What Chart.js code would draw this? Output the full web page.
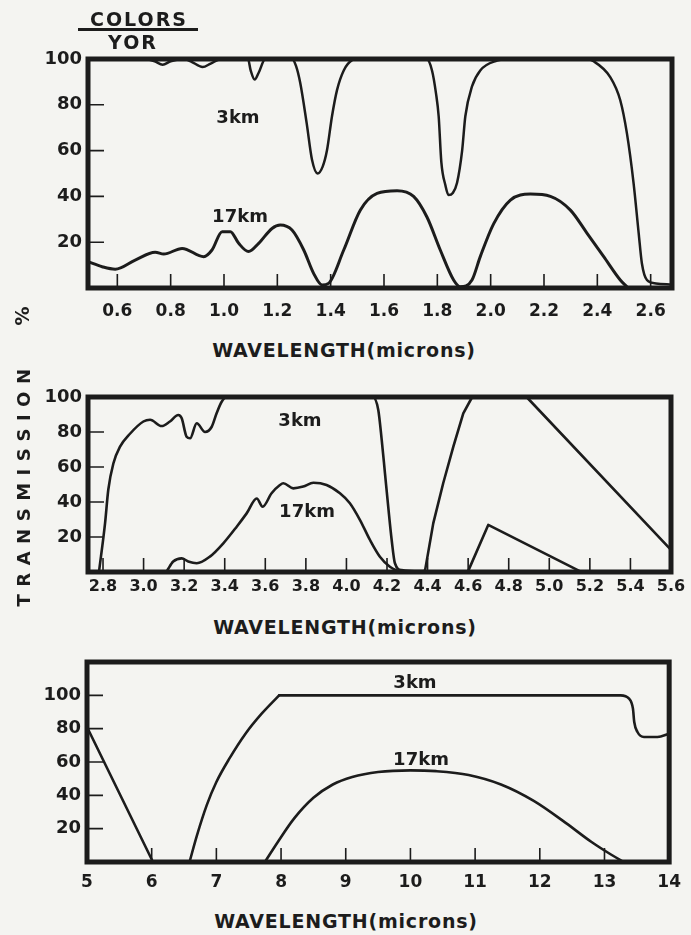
<!DOCTYPE html>
<html><head><meta charset="utf-8">
<script src="https://cdn.jsdelivr.net/npm/chart.js@4.4.0/dist/chart.umd.min.js"></script>
<style>
html,body{margin:0;padding:0;background:#f4f4f1;}
#wrap{position:relative;width:691px;height:935px;overflow:hidden;font-family:"DejaVu Sans",sans-serif;font-weight:bold;color:#1c1c1c;background:#f4f4f1;}
canvas{position:absolute;left:0;}
.t{position:absolute;white-space:nowrap;transform:translate(-50%,-50%);line-height:1;}
.v{position:absolute;white-space:nowrap;transform:translate(-50%,-50%) rotate(-90deg);line-height:1;}
</style></head><body>
<div id="wrap">
<canvas id="c1" width="691" height="335" style="top:0px"></canvas>
<canvas id="c2" width="691" height="225" style="top:375px"></canvas>
<canvas id="c3" width="691" height="260" style="top:640px"></canvas>

<div class="t" style="left:139px;top:19px;font-size:19px;letter-spacing:2px">COLORS</div>
<div style="position:absolute;left:78px;top:28px;width:120px;height:2.5px;background:#1c1c1c"></div>
<div class="t" style="left:133px;top:42px;font-size:19px;letter-spacing:2px">YOR</div>
<div class="v" style="left:22px;top:316px;font-size:19px">%</div>
<div class="v" style="left:24px;top:484px;font-size:18px;letter-spacing:7.5px">TRANSMISSION</div>

<div class="t" style="left:344px;top:350px;font-size:19px;letter-spacing:0.8px">WAVELENGTH(microns)</div>
<div class="t" style="left:345px;top:627px;font-size:19px;letter-spacing:0.8px">WAVELENGTH(microns)</div>
<div class="t" style="left:346px;top:921px;font-size:19px;letter-spacing:0.8px">WAVELENGTH(microns)</div>

<div class="t" style="left:238px;top:117px;font-size:18px">3km</div>
<div class="t" style="left:240px;top:216px;font-size:18px">17km</div>
<div class="t" style="left:300px;top:420px;font-size:18px">3km</div>
<div class="t" style="left:307px;top:511px;font-size:18px">17km</div>
<div class="t" style="left:415px;top:682px;font-size:18px">3km</div>
<div class="t" style="left:421px;top:759px;font-size:18px">17km</div>
</div>
<script>
// ---------- DATA ----------
// Panel 1 (0.5 - 2.7 microns)
const p1XTicks = [0.6, 0.8, 1.0, 1.2, 1.4, 1.6, 1.8, 2.0, 2.2, 2.4, 2.6];
const p1YTicks = [20, 40, 60, 80, 100];
const p1Wave3km = [0.49, 0.70, 0.74, 0.77, 0.80, 0.85, 0.875, 0.92, 0.95, 0.99, 1.07, 1.09, 1.10, 1.115, 1.13, 1.155, 1.24, 1.255, 1.27, 1.286, 1.31, 1.33, 1.351, 1.37, 1.386, 1.405, 1.424, 1.449, 1.48, 1.50, 1.76, 1.78, 1.795, 1.805, 1.815, 1.83, 1.842, 1.858, 1.874, 1.893, 1.905, 1.93, 1.961, 2.024, 2.06, 2.36, 2.386, 2.449, 2.486, 2.511, 2.536, 2.555, 2.567, 2.586, 2.62, 2.68];
const p1Trans3km = [100, 100, 99, 97.5, 99, 100, 99, 96.5, 98, 100, 100, 100, 95, 91, 94, 100, 100, 100, 97, 89.5, 72, 56, 50, 53, 60, 75, 86.5, 95, 99.5, 100, 100, 95, 85, 75, 55, 45, 40.6, 41.5, 46, 60, 75, 88, 95, 99.3, 100, 100, 99, 92, 82, 67.5, 45.7, 24, 10.8, 3.5, 2, 1.5];
const p1Wave17km = [0.49, 0.543, 0.592, 0.667, 0.742, 0.774, 0.843, 0.924, 0.955, 0.993, 1.024, 1.055, 1.092, 1.13, 1.18, 1.211, 1.255, 1.299, 1.336, 1.368, 1.392, 1.449, 1.511, 1.574, 1.649, 1.711, 1.761, 1.811, 1.861, 1.886, 1.93, 1.961, 2.011, 2.074, 2.149, 2.224, 2.299, 2.361, 2.424, 2.486, 2.511];
const p1Trans17km = [11.5, 9.3, 8.2, 12.2, 15.6, 14.8, 17.3, 13.7, 16.6, 24.6, 24.6, 19.5, 15.9, 19.5, 26, 27.5, 25.3, 16.6, 6.4, 1.3, 2, 16.6, 34, 41.3, 42.5, 40, 31, 16.6, 3.5, 0.5, 3.5, 13.7, 28, 38.4, 41, 40, 34, 24, 13.7, 3.5, 0.5];

// Panel 2 (2.8 - 5.6 microns)
const p2XTicks = [2.8, 3.0, 3.2, 3.4, 3.6, 3.8, 4.0, 4.2, 4.4, 4.6, 4.8, 5.0, 5.2, 5.4, 5.6];
const p2YTicks = [20, 40, 60, 80, 100];
const p2Wave3kmA = [2.78, 2.81, 2.826, 2.851, 2.884, 2.933, 2.999, 3.032, 3.089, 3.13, 3.171, 3.188, 3.212, 3.229, 3.262, 3.303, 3.336, 3.36, 3.385, 3.41, 4.13, 4.157, 4.174, 4.19, 4.206, 4.223, 4.239, 4.272, 4.38];
const p2Trans3kmA = [0, 27.8, 47, 62, 71.6, 79, 86, 87, 83.4, 86, 89.7, 87.8, 77.3, 76.4, 85, 80, 83, 90.7, 97.3, 100, 100, 92.6, 75.4, 56.4, 37.3, 18.3, 5, 1.1, 0.5];
const p2Wave3kmB = [4.38, 4.387, 4.428, 4.477, 4.527, 4.576, 4.62, 4.888, 5.6];
const p2Trans3kmB = [0.5, 0.5, 27.8, 50.7, 71.6, 90.7, 100, 100, 12.6];
const p2Wave17kmA = [3.117, 3.146, 3.188, 3.22, 3.262, 3.327, 3.393, 3.459, 3.508, 3.558, 3.587, 3.631, 3.672, 3.689, 3.738, 3.787, 3.837, 3.902, 3.968, 4.017, 4.067, 4.116, 4.165, 4.214, 4.264];
const p2Trans17kmA = [1, 6, 7.8, 6, 5, 8.8, 16.4, 25.9, 33.5, 42, 37.3, 45, 49.7, 50.7, 47.8, 48.8, 51, 49.7, 45, 39.3, 29.7, 18.3, 8.7, 3, 0];
const p2Wave17kmB = [4.6, 4.699, 5.15];
const p2Trans17kmB = [0.5, 26.9, 0.5];

// Panel 3 (5 - 14 microns)
const p3XTicks = [5, 6, 7, 8, 9, 10, 11, 12, 13, 14];
const p3YTicks = [20, 40, 60, 80, 100];
const p3Wave3kmA = [5.0, 6.02, 6.585];
const p3Trans3kmA = [81, 0, 0];
const p3Wave3kmB = [6.585, 6.7, 6.85, 7.0, 7.2, 7.45, 7.7, 7.97];
const p3Trans3kmB = [0, 16, 34, 48, 62, 77, 89, 100];
const p3Wave3kmC = [7.97, 12.5, 13.25, 13.38, 13.44, 13.46, 13.51, 13.61, 13.82, 14.0];
const p3Trans3kmC = [100, 100, 100, 98, 92, 84, 78, 75, 75, 77];
const p3Wave17km = [7.75, 7.95, 8.2, 8.5, 8.8, 9.1, 9.5, 10.0, 10.4, 10.9, 11.4, 11.9, 12.4, 12.8, 13.1, 13.3];
const p3Trans17km = [0, 12, 26, 38.5, 46.5, 51, 54, 55, 54.5, 52.2, 46.5, 36.8, 23.5, 12, 4.5, 0];

// ---------- CHARTS ----------
const INK = '#1c1c1c';
const FONT = '"DejaVu Sans", sans-serif';

const framePlugin = {
  id: 'frame',
  afterDatasetsDraw(chart, args, opts) {
    const {ctx, chartArea: a, scales} = chart;
    ctx.save();
    ctx.strokeStyle = INK;
    ctx.lineWidth = 1.6;
    ctx.beginPath();
    (opts.xTicks || []).forEach(v => {
      const x = scales.x.getPixelForValue(v);
      if (x <= a.left + 3 || x >= a.right - 3) return;
      ctx.moveTo(x, a.bottom); ctx.lineTo(x, a.bottom - opts.tickLen);
    });
    (opts.yTicks || []).forEach(v => {
      const y = scales.y.getPixelForValue(v);
      ctx.moveTo(a.left, y); ctx.lineTo(a.left + opts.tickLen + 2, y);
    });
    ctx.stroke();
    ctx.lineWidth = 5;
    ctx.strokeRect(a.left, a.top, a.right - a.left, a.bottom - a.top);
    ctx.restore();
  }
};

function series(xs, ys, smooth, w) {
  return {
    data: xs.map((x, i) => ({x: x, y: ys[i]})),
    borderColor: INK, borderWidth: w || 2.6, pointRadius: 0, fill: false,
    cubicInterpolationMode: smooth ? 'monotone' : 'default', tension: 0,
    borderCapStyle: 'round', borderJoinStyle: 'round', clip: 3
  };
}

function makeChart(id, c) {
  return new Chart(document.getElementById(id), {
    type: 'line',
    data: {datasets: c.datasets},
    options: {
      responsive: false, animation: false, events: [],
      layout: {padding: c.pad},
      plugins: {legend: {display: false}, tooltip: {enabled: false},
        frame: {xTicks: c.xTicks, yTicks: c.yTicks, tickLen: 14}},
      scales: {
        x: {type: 'linear', min: c.xMin, max: c.xMax,
          grid: {display: false, drawTicks: false}, border: {display: false},
          afterBuildTicks: s => { s.ticks = c.xTicks.map(v => ({value: v})); },
          afterFit: s => { s.height = c.xH; },
          ticks: {autoSkip: false, maxRotation: 0, padding: c.xPad, color: INK,
            font: {family: FONT, size: c.xFont, weight: 'bold'}, callback: c.fmt}},
        y: {type: 'linear', min: 0, max: c.yMax,
          grid: {display: false, drawTicks: false}, border: {display: false},
          afterBuildTicks: s => { s.ticks = c.yTicks.map(v => ({value: v})); },
          afterFit: s => { s.width = c.yW; },
          ticks: {autoSkip: false, padding: 6, color: INK,
            font: {family: FONT, size: 18, weight: 'bold'}, callback: v => String(v)}}
      }
    },
    plugins: [framePlugin]
  });
}

const fmt1 = v => Number(v).toFixed(1);

makeChart('c1', {
  datasets: [series(p1Wave3km, p1Trans3km, true, 2.5), series(p1Wave17km, p1Trans17km, true, 3)],
  xTicks: p1XTicks, yTicks: p1YTicks, xMin: 0.49, xMax: 2.68, yMax: 100,
  pad: {top: 59, right: 19, left: 0, bottom: 0}, yW: 88, xH: 47, xPad: 13, xFont: 17, fmt: fmt1
});

makeChart('c2', {
  datasets: [series(p2Wave3kmA, p2Trans3kmA, true), series(p2Wave3kmB, p2Trans3kmB, false),
             series(p2Wave17kmA, p2Trans17kmA, true), series(p2Wave17kmB, p2Trans17kmB, false)],
  xTicks: p2XTicks, yTicks: p2YTicks, xMin: 2.726, xMax: 5.6, yMax: 100,
  pad: {top: 22, right: 20, left: 0, bottom: 0}, yW: 88, xH: 28, xPad: 5, xFont: 16, fmt: fmt1
});

makeChart('c3', {
  datasets: [series(p3Wave3kmA, p3Trans3kmA, false), series(p3Wave3kmB, p3Trans3kmB, true),
             series(p3Wave3kmC, p3Trans3kmC, true), series(p3Wave17km, p3Trans17km, true)],
  xTicks: p3XTicks, yTicks: p3YTicks, xMin: 5, xMax: 14, yMax: 120,
  pad: {top: 22, right: 19, left: 0, bottom: 0}, yW: 87, xH: 38, xPad: 10, xFont: 17, fmt: v => String(v)
});
</script>
</body></html>
